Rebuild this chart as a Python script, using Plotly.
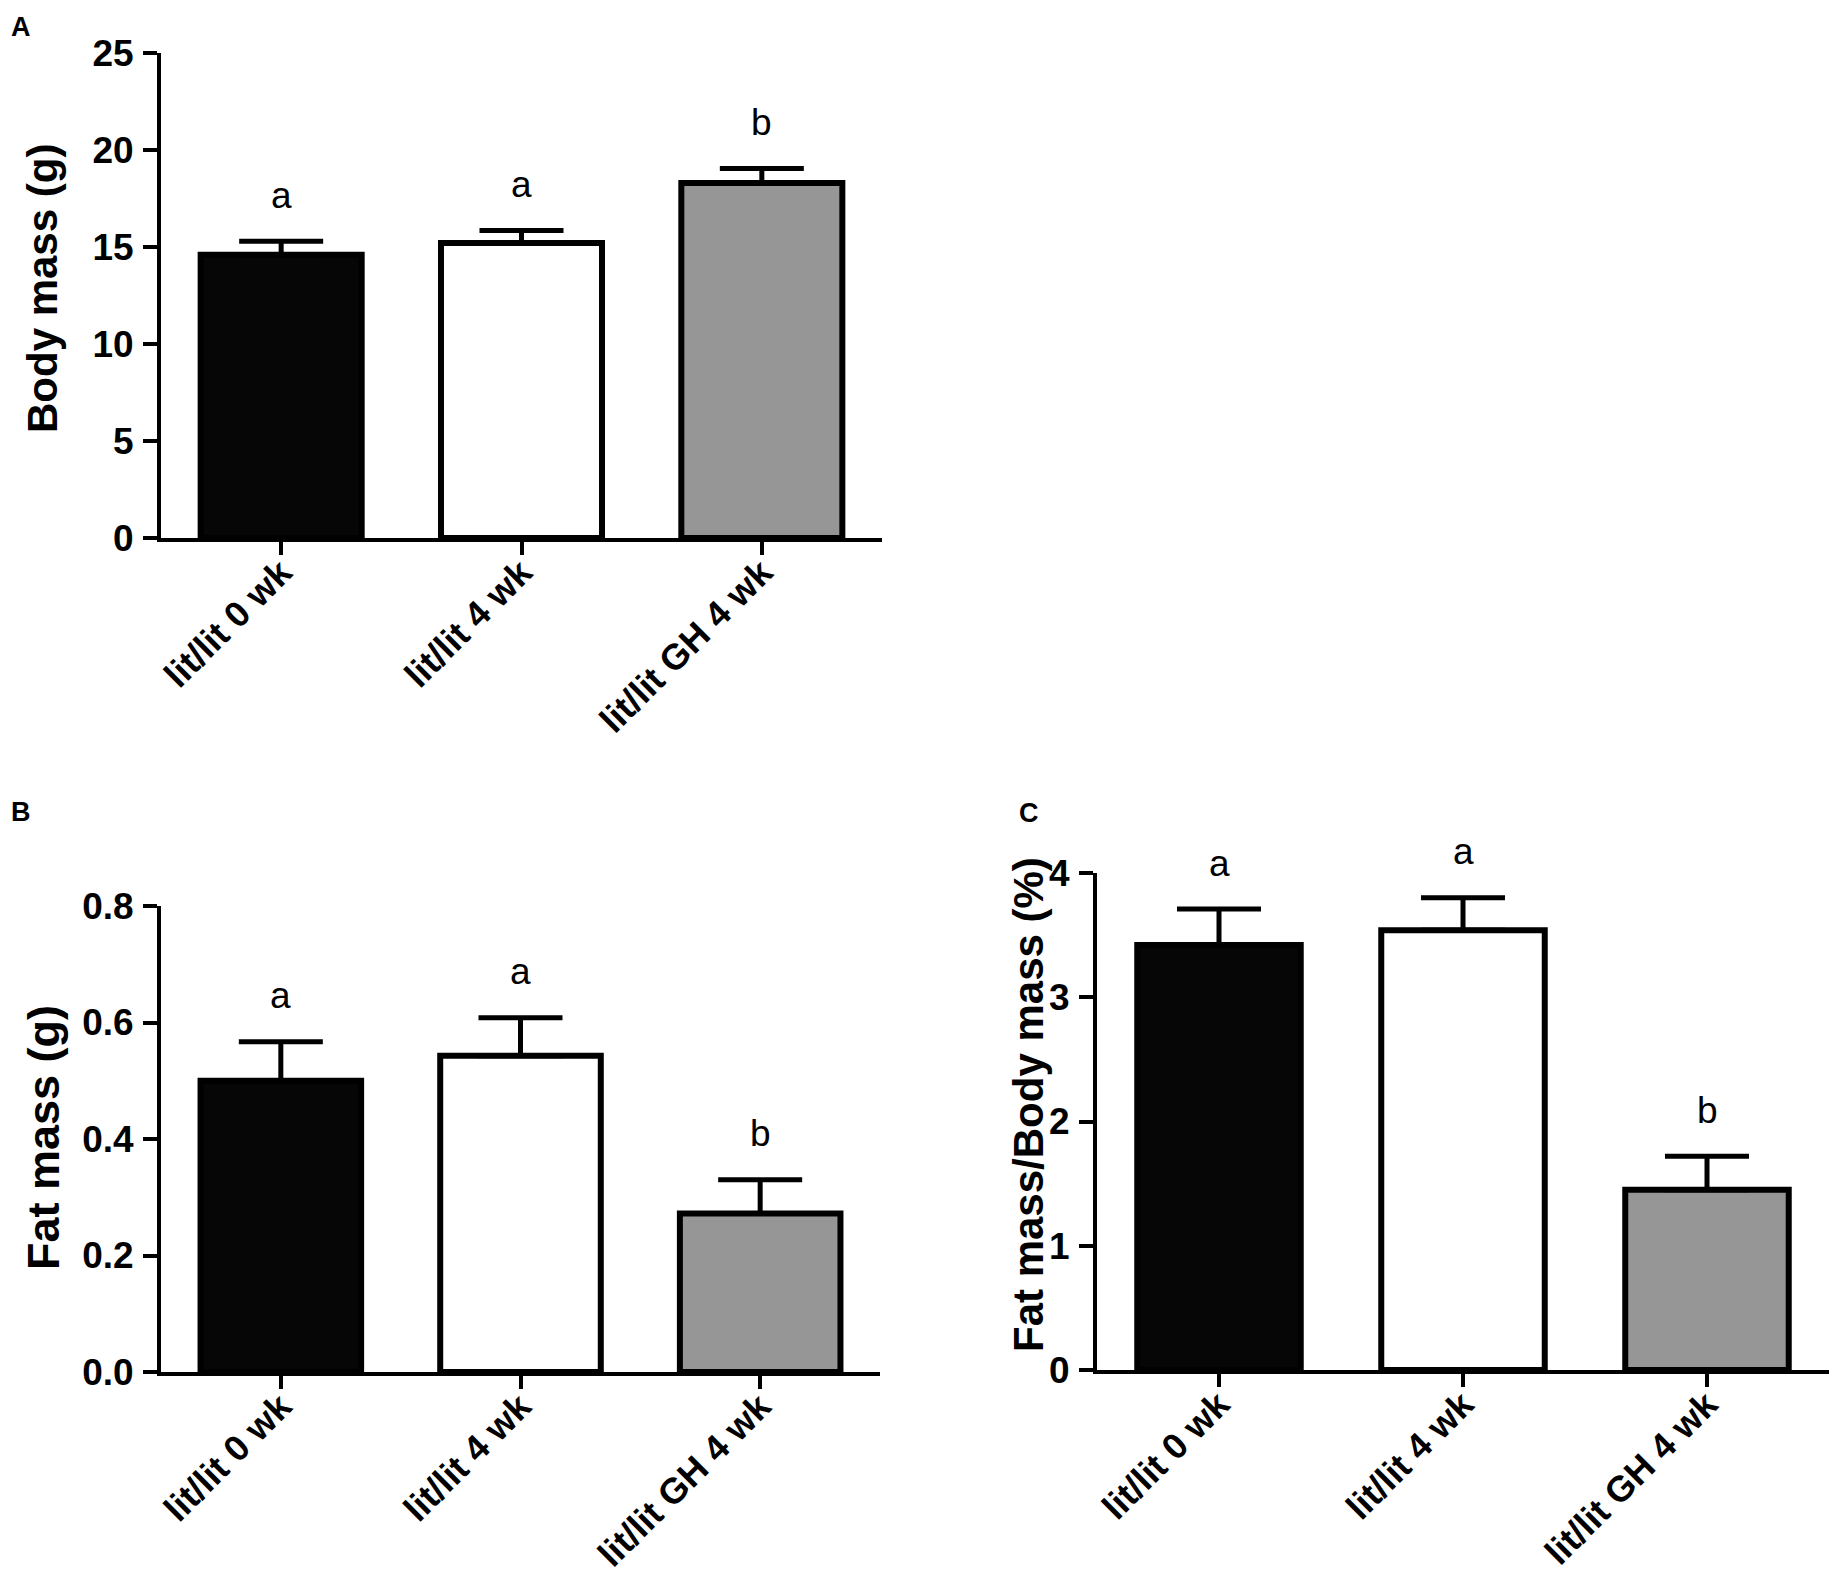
import plotly.graph_objects as go

groups = ["lit/lit 0 wk", "lit/lit 4 wk", "lit/lit GH 4 wk"]
bar_colors = ["#060606", "#ffffff", "#969696"]

body_mass = [14.6, 15.2, 18.3]
body_mass_err = [0.7, 0.65, 0.75]
body_mass_letters = ["a", "a", "b"]

fat_mass = [0.50, 0.543, 0.272]
fat_mass_err = [0.067, 0.065, 0.058]
fat_mass_letters = ["a", "a", "b"]

fat_pct = [3.42, 3.54, 1.45]
fat_pct_err = [0.29, 0.26, 0.27]
fat_pct_letters = ["a", "a", "b"]

# the page body has an 8px margin, so the figure is made that much smaller
# and positions below are given in page pixels
OFF = 8
FW, FH = 1837 - 2 * OFF, 1591 - 2 * OFF
FONT = "Liberation Sans, Arial, Helvetica, sans-serif"


def fx(px):
    return (px - OFF) / FW


def fy(py):
    return 1 - (py - OFF) / FH


fig = go.Figure()

panels = [
    # values, errors, letters, axes, box (left, right, top, bottom px), y range, dtick
    (body_mass, body_mass_err, body_mass_letters, "x", "y",
     (161, 882, 53, 538), [0, 25], 5),
    (fat_mass, fat_mass_err, fat_mass_letters, "x2", "y2",
     (161, 880, 906, 1372), [0, 0.8], 0.2),
    (fat_pct, fat_pct_err, fat_pct_letters, "x3", "y3",
     (1097, 1837, 873, 1370), [0, 4], 1),
]

for i, (vals, errs, letters, xa, ya, box, yr, dt) in enumerate(panels):
    l, r, t, b = box
    fig.add_trace(go.Bar(
        x=groups, y=vals, xaxis=xa, yaxis=ya, width=0.67,
        marker=dict(color=bar_colors, line=dict(color="black", width=6)),
        error_y=dict(type="data", array=errs, arrayminus=[0, 0, 0],
                     symmetric=False, color="black", thickness=5, width=42),
        showlegend=False, hoverinfo="skip",
    ))
    for g, v, e, txt in zip(groups, vals, errs, letters):
        fig.add_annotation(x=g, y=v + e, xref=xa, yref=ya, text=txt,
                           showarrow=False, yanchor="middle", yshift=46,
                           font=dict(family=FONT, size=37, color="black"))
    sfx = "" if i == 0 else str(i + 1)
    fig.update_layout(**{
        "xaxis" + sfx: dict(
            domain=[fx(l), min(fx(r), 1)], anchor=ya, type="category",
            range=[-0.5, 2.5], automargin=False,
            showline=True, linecolor="black", linewidth=4,
            ticks="outside", ticklen=13, tickwidth=4, tickcolor="black",
            tickangle=-45, showgrid=False, zeroline=False, ticklabelstandoff=-18,
            tickfont=dict(family=FONT, size=36, color="black", weight="bold"),
        ),
        "yaxis" + sfx: dict(
            domain=[fy(b), fy(t)], anchor=xa, range=yr, dtick=dt,
            tickformat=".1f" if i == 1 else "d", automargin=False,
            showline=True, linecolor="black", linewidth=4,
            ticks="outside", ticklen=14, tickwidth=4, tickcolor="black",
            showgrid=False, zeroline=False, ticklabelstandoff=2,
            tickfont=dict(family=FONT, size=37, color="black", weight="bold"),
        ),
    })

# axis titles
titles = [
    ("Body mass (g)", 43, 289, 42),
    ("Fat mass (g)", 43, 1138, 45),
    ("Fat mass/Body mass (%)", 1028, 1105, 42),
]
for txt, px, py, fs in titles:
    fig.add_annotation(x=fx(px), y=fy(py), xref="paper", yref="paper",
                       text="<b>%s</b>" % txt, textangle=-90, showarrow=False,
                       xanchor="center", yanchor="middle",
                       font=dict(family=FONT, size=fs, color="black"))

# panel letters
for lab, px, py in [("A", 21, 27), ("B", 21, 812), ("C", 1029, 813)]:
    fig.add_annotation(x=fx(px), y=fy(py), xref="paper", yref="paper",
                       text="<b>%s</b>" % lab, showarrow=False,
                       xanchor="center", yanchor="middle",
                       font=dict(family=FONT, size=27, color="black"))

fig.update_layout(
    width=FW, height=FH,
    margin=dict(l=0, r=0, t=0, b=0, autoexpand=False),
    paper_bgcolor="white", plot_bgcolor="white",
    font=dict(family=FONT, color="black"),
)

fig.write_html("out.html")
